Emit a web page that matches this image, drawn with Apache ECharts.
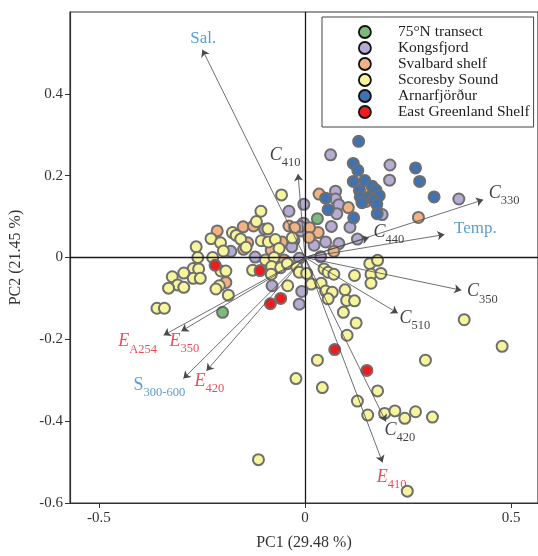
<!DOCTYPE html>
<html>
<head>
<meta charset="utf-8">
<script src="https://cdn.jsdelivr.net/npm/echarts@6/dist/echarts.min.js"></script>
<style>html,body{margin:0;padding:0;background:#fff}#c{width:538px;height:556px}</style>
</head>
<body>
<div id="c"></div>
<script>
// ---------- data ----------
const xTicks = [-0.5, 0, 0.5];
const yTicks = [-0.6, -0.4, -0.2, 0, 0.2, 0.4];
const seriesNames = ['75°N transect', 'Kongsfjord', 'Svalbard shelf', 'Scoresby Sound', 'Arnarfjörður', 'East Greenland Shelf'];

const transect75N = [[0.030, 0.095], [-0.200, -0.134]];
const kongsfjord = [
  [-0.003, 0.130], [-0.039, 0.113], [-0.004, 0.084], [-0.098, 0.069], [-0.010, 0.065],
  [-0.180, 0.015], [-0.038, 0.034], [-0.121, 0.001], [-0.080, -0.069], [-0.008, -0.083],
  [-0.014, -0.114], [0.062, 0.251], [0.206, 0.226], [0.205, 0.189], [0.373, 0.143],
  [0.074, 0.162], [0.074, 0.143], [0.082, 0.129], [0.077, 0.107], [0.187, 0.105],
  [0.064, 0.076], [0.109, 0.074], [-0.012, 0.076], [0.127, 0.045], [0.022, 0.030],
  [0.050, 0.038], [0.082, 0.034], [0.038, 0.002], [-0.027, 0.042], [-0.032, 0.026],
  [-0.014, -0.002]
];
const svalbard = [
  [-0.150, 0.075], [-0.125, 0.077], [-0.039, 0.077], [-0.025, 0.073], [-0.213, 0.065],
  [-0.139, 0.036], [-0.056, 0.038], [-0.149, 0.020], [-0.082, 0.018], [-0.051, -0.006],
  [-0.192, -0.061], [0.150, 0.164], [0.148, 0.137], [0.034, 0.155], [0.105, 0.122],
  [0.275, 0.098], [0.032, 0.061], [0.011, 0.073], [0.010, 0.049], [0.070, 0.015]
];
const scoresby = [
  [-0.057, 0.153], [-0.107, 0.113], [-0.118, 0.088], [-0.090, 0.070], [-0.176, 0.061],
  [-0.167, 0.054], [-0.156, 0.045], [-0.228, 0.046], [-0.205, 0.036], [-0.106, 0.041],
  [-0.089, 0.038], [-0.072, 0.044], [-0.031, 0.048], [-0.264, 0.026], [-0.198, 0.016],
  [-0.143, 0.025], [-0.063, 0.022], [-0.260, 0.000], [-0.224, 0.000], [-0.096, -0.006],
  [-0.075, 0.000], [-0.204, -0.033], [-0.192, -0.033], [-0.271, -0.027], [-0.258, -0.028],
  [-0.294, -0.038], [-0.322, -0.047], [-0.271, -0.051], [-0.254, -0.051], [-0.309, -0.067],
  [-0.294, -0.073], [-0.331, -0.075], [-0.127, -0.031], [-0.081, -0.022], [-0.082, -0.041],
  [-0.059, -0.025], [-0.043, -0.015], [-0.020, -0.023], [-0.042, -0.069], [-0.208, -0.069],
  [-0.216, -0.077], [-0.186, -0.092], [-0.359, -0.124], [-0.341, -0.124],
  [0.157, -0.015], [0.176, -0.007], [0.120, -0.044], [0.160, -0.041], [0.184, -0.039],
  [0.160, -0.063], [0.046, -0.028], [0.056, -0.036], [0.070, -0.041], [-0.014, -0.036],
  [0.004, -0.039], [0.015, -0.065], [0.039, -0.063], [0.050, -0.082], [0.066, -0.085],
  [0.056, -0.101], [0.097, -0.079], [0.101, -0.105], [0.120, -0.106], [0.093, -0.134],
  [0.124, -0.160], [0.102, -0.190], [0.030, -0.251], [0.386, -0.152], [0.478, -0.217],
  [0.292, -0.251], [-0.022, -0.296], [0.042, -0.318], [0.176, -0.326], [0.127, -0.351],
  [0.152, -0.385], [0.193, -0.381], [0.218, -0.375], [0.242, -0.393], [0.268, -0.377],
  [0.309, -0.390], [0.248, -0.571], [-0.113, -0.494]
];
const arnarfjordur = [
  [0.130, 0.284], [0.117, 0.230], [0.128, 0.213], [0.268, 0.219], [0.278, 0.186],
  [0.117, 0.186], [0.145, 0.188], [0.163, 0.174], [0.132, 0.164], [0.172, 0.165],
  [0.180, 0.151], [0.134, 0.148], [0.155, 0.147], [0.166, 0.140], [0.174, 0.130],
  [0.138, 0.134], [0.175, 0.107], [0.313, 0.148], [0.050, 0.145], [0.056, 0.117],
  [0.118, 0.097]
];
const eastGreenland = [
  [-0.218, -0.019], [-0.109, -0.032], [-0.059, -0.100], [-0.084, -0.113],
  [0.072, -0.225], [0.150, -0.276]
];

// loading vectors
const arrowNames = ['Sal.', 'C410', 'C330', 'Temp.', 'C440', 'C350', 'C510', 'C420', 'E410', 'EA254', 'E350', 'S300-600', 'E420'];
const arrowX = [-0.249, -0.017, 0.432, 0.338, 0.155, 0.379, 0.225, 0.196, 0.188, -0.343, -0.300, -0.295, -0.239];
const arrowY = [0.508, 0.204, 0.141, 0.056, 0.049, -0.080, -0.136, -0.401, -0.501, -0.190, -0.180, -0.296, -0.277];

// ---------- styling ----------
const FONT = 'Liberation Serif';
const colors = ['#7dbb7d', '#b6abd0', '#f2b283', '#f7f59c', '#3f71b3', '#ee1c1c'];
const labelOffsets = {
  'Sal.': [1, -11], 'C410': [-13, -16], 'C330': [21, -4], 'Temp.': [31, -6],
  'C440': [20, -3], 'C350': [21, 4], 'C510': [17, 8], 'C420': [14, 11], 'E410': [9, 17],
  'EA254': [-26, 9], 'E350': [3, 13], 'S300-600': [-24, 9], 'E420': [3, 13]
};
const BLUE = '#2f86c2', RED = '#e3232a';
function richText(name) {
  if (name === 'Sal.' || name === 'Temp.') return '{bl|' + name + '}';
  if (name.startsWith('S')) return '{bS|S}{bsub|' + name.slice(1) + '}';
  if (name.startsWith('E')) return '{rE|E}{rsub|' + name.slice(1) + '}';
  return '{kC|C}{ksub|' + name.slice(1) + '}';
}
const rich = {
  bl: {fontFamily: FONT, fontSize: 17, color: BLUE},
  bS: {fontFamily: FONT, fontSize: 18, color: BLUE, verticalAlign: 'bottom', padding: [0, 0, 5, 0]},
  bsub: {fontFamily: FONT, fontSize: 12.5, color: BLUE, verticalAlign: 'bottom'},
  rE: {fontFamily: FONT, fontSize: 18, fontStyle: 'italic', color: RED, verticalAlign: 'bottom', padding: [0, 0, 5, 0]},
  rsub: {fontFamily: FONT, fontSize: 12.5, color: RED, verticalAlign: 'bottom'},
  kC: {fontFamily: FONT, fontSize: 18, fontStyle: 'italic', color: '#111', verticalAlign: 'bottom', padding: [0, 0, 5, 0]},
  ksub: {fontFamily: FONT, fontSize: 12.5, color: '#111', verticalAlign: 'bottom'}
};

const groups = [transect75N, kongsfjord, svalbard, scoresby, arnarfjordur, eastGreenland];
const scatterSeries = groups.map((g, i) => ({
  name: seriesNames[i],
  type: 'scatter',
  data: g,
  symbol: 'circle',
  symbolSize: 11,
  z: 2,
  itemStyle: {color: colors[i], borderColor: '#6e6e6e', borderWidth: 2, opacity: 1},
  emphasis: {disabled: true}
}));

const arrowSeries = {
  type: 'lines',
  coordinateSystem: 'cartesian2d',
  z: 5,
  silent: true,
  symbol: ['none', 'arrow'],
  symbolSize: 7,
  lineStyle: {color: '#4a4a4a', width: 0.8, opacity: 1},
  data: arrowNames.map((n, i) => ({coords: [[0, 0], [arrowX[i], arrowY[i]]]}))
};

const labelSeries = {
  type: 'scatter',
  z: 6,
  silent: true,
  symbolSize: 0,
  data: arrowNames.map((n, i) => ({
    value: [arrowX[i], arrowY[i]],
    label: {
      show: true, position: 'inside', offset: labelOffsets[n],
      formatter: richText(n), rich: rich, align: 'center', verticalAlign: 'middle'
    }
  })),
  markLine: {
    silent: true, symbol: 'none', animation: false,
    label: {show: false},
    lineStyle: {color: '#1a1a1a', width: 1.3, type: 'solid'},
    data: [{xAxis: 0}, {yAxis: 0}]
  }
};

const axisText = {fontFamily: FONT, fontSize: 15, color: '#333'};

const option = {
  animation: false,
  backgroundColor: '#fff',
  grid: {left: 70, right: -2, top: 12, bottom: 50, show: true, borderColor: '#333', borderWidth: 1.2, backgroundColor: 'transparent'},
  legend: {
    data: seriesNames,
    orient: 'vertical',
    left: 322, top: 17,
    padding: [7, 4, 7, 36],
    itemGap: 0,
    itemWidth: 12, itemHeight: 12,
    icon: 'circle',
    backgroundColor: '#fff',
    borderColor: '#444', borderWidth: 1, borderRadius: 0,
    itemStyle: {borderColor: '#111', borderWidth: 1.8},
    textStyle: {fontFamily: FONT, fontSize: 15.5, lineHeight: 16, color: '#222', padding: [0, 0, 0, 22]},
    selectedMode: false
  },
  xAxis: {
    type: 'value', min: -0.57, max: 0.565,
    name: 'PC1 (29.48 %)', nameLocation: 'middle', nameGap: 32,
    nameTextStyle: {fontFamily: FONT, fontSize: 16, color: '#333'},
    axisLine: {show: true, onZero: false, lineStyle: {color: '#333', width: 1.2}},
    axisTick: {show: true, customValues: xTicks, length: 5, lineStyle: {color: '#333'}},
    axisLabel: {customValues: xTicks, ...axisText, margin: 8},
    splitLine: {show: false}
  },
  yAxis: {
    type: 'value', min: -0.6, max: 0.6,
    name: 'PC2 (21.45 %)', nameLocation: 'middle', nameGap: 46, nameRotate: 90,
    nameTextStyle: {fontFamily: FONT, fontSize: 16, color: '#333'},
    axisLine: {show: true, onZero: false, lineStyle: {color: '#333', width: 1.2}},
    axisTick: {show: true, customValues: yTicks, length: 5, lineStyle: {color: '#333'}},
    axisLabel: {customValues: yTicks, ...axisText, margin: 7},
    splitLine: {show: false}
  },
  series: [...scatterSeries, arrowSeries, labelSeries]
};

const chart = echarts.init(document.getElementById('c'), null, {renderer: 'canvas'});
chart.setOption(option);
</script>
</body>
</html>
